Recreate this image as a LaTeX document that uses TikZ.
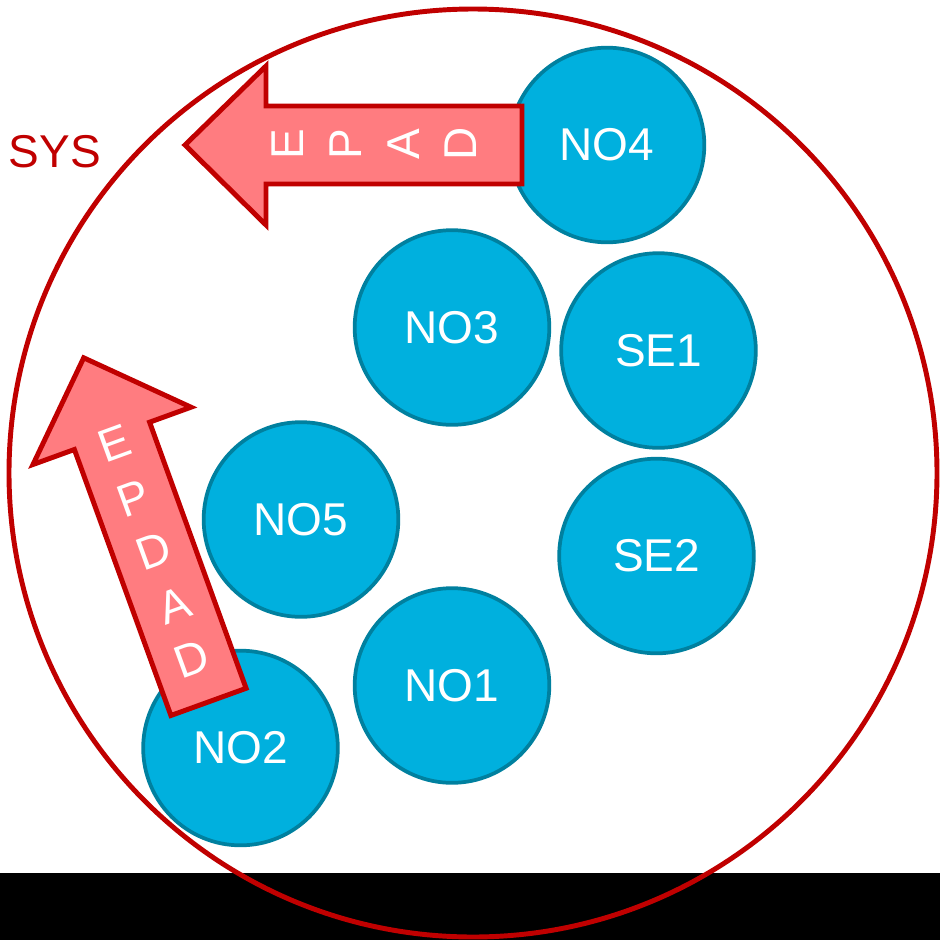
\documentclass[tikz,border=0pt]{standalone}
\usepackage{fontspec}
\setmainfont{Liberation Sans}
\definecolor{sysred}{HTML}{C00000}
\definecolor{arrowfill}{HTML}{FF7C80}
\definecolor{nodefill}{HTML}{00B0DE}
\definecolor{nodeline}{HTML}{00809F}
\begin{document}
\begin{tikzpicture}[x=0.75pt,y=-0.75pt,
  unit/.style={circle, draw=nodeline, fill=nodefill, line width=2.8pt,
    minimum size=146pt, inner sep=0pt, text=white,
    font=\fontsize{34.5}{40}\selectfont},
  bigarrow/.style={draw=sysred, fill=arrowfill, line width=3.7pt, line join=miter},
  arrowletter/.style={text=white, inner sep=0pt, font=\fontsize{34.5}{40}\selectfont},
  syscircle/.style={circle, draw=sysred, line width=3.7pt, minimum size=696pt, inner sep=0pt},
]
\useasboundingbox (0,0) rectangle (940,940);
\fill[black] (0,873) rectangle (940,940);
\node[syscircle] (sys) at (473,473) {};
\node[text=sysred, inner sep=0pt, font=\fontsize{34.5}{40}\selectfont] (syslabel) at (55,152) {SYS};

\node[unit] (no4) at (607,145) {NO4};
\node[unit] (no3) at (452,327.5) {NO3};
\node[unit] (se1) at (658.5,350.5) {SE1};
\node[unit] (no5) at (301,519.5) {NO5};
\node[unit] (se2) at (656.5,556) {SE2};
\node[unit] (no1) at (452,685.5) {NO1};
\node[unit] (no2) at (240.5,748) {NO2};

% horizontal arrow
\draw[bigarrow] (185,145) -- (266,66) -- (266,106) -- (522,106) -- (522,184)
  -- (266,184) -- (266,225) -- cycle;
\node[arrowletter, rotate=90] (h1) at (288,144) {E};
\node[arrowletter, rotate=90] (h2) at (345.5,144) {P};
\node[arrowletter, rotate=90] (h3) at (403.5,144) {A};
\node[arrowletter, rotate=90] (h4) at (461,144) {D};

% tilted arrow
\draw[bigarrow] (83.7,357.8) -- (191.0,407.2) -- (149.6,422.2) -- (246.1,688.3)
  -- (170.9,715.5) -- (74.4,449.5) -- (33.0,464.5) -- cycle;
\node[arrowletter, rotate=20] (t1) at (114.6,443.0) {E};
\node[arrowletter, rotate=20] (t2) at (133.5,498) {P};
\node[arrowletter, rotate=20] (t3) at (153.6,551) {D};
\node[arrowletter, rotate=20] (t4) at (174.5,605.5) {A};
\node[arrowletter, rotate=20] (t5) at (192.0,659) {D};
\end{tikzpicture}
\end{document}
